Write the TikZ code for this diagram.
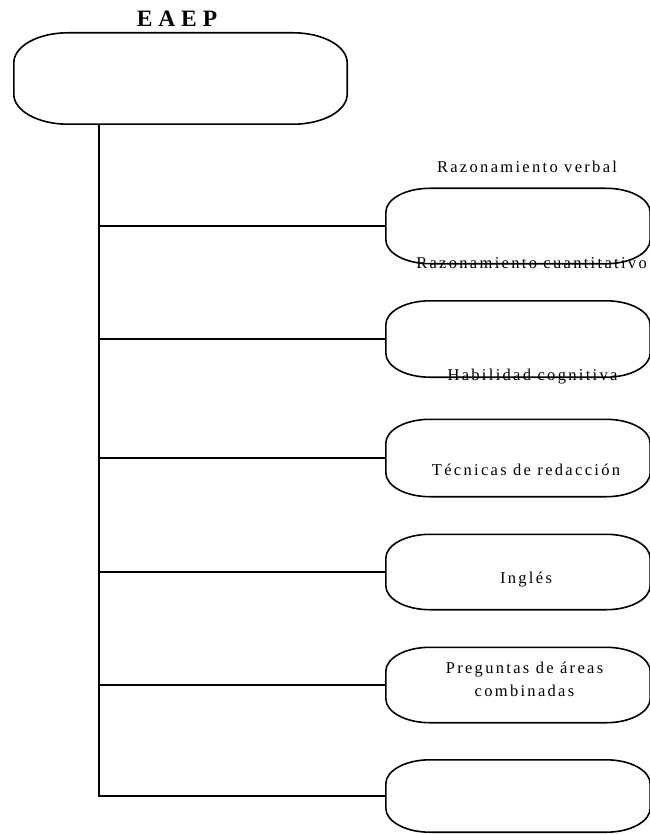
\documentclass[tikz,border=0pt]{standalone}
\usepackage{fontspec}
\setmainfont{Liberation Serif}
\newfontfamily\labelfont[LetterSpace=14]{Liberation Serif}
\newfontfamily\titlefont[LetterSpace=25]{Liberation Serif}
\usetikzlibrary{calc}
\usetikzlibrary{positioning}
\newcommand{\pill}[3]{%
  \draw[line width=1.6pt] ([xshift=#2]#1.north west) -- ([xshift=-#2]#1.north east)
    arc[start angle=90,end angle=0,x radius=#2,y radius=#3]
    -- ([yshift=#3]#1.south east)
    arc[start angle=0,end angle=-90,x radius=#2,y radius=#3]
    -- ([xshift=#2]#1.south west)
    arc[start angle=270,end angle=180,x radius=#2,y radius=#3]
    -- ([yshift=-#3]#1.north west)
    arc[start angle=180,end angle=90,x radius=#2,y radius=#3] -- cycle;}

\begin{document}
\begin{tikzpicture}[x=1pt,y=-1pt]
\tikzstyle{box}=[rectangle,inner sep=0pt,minimum width=264pt,minimum height=75pt]
\tikzstyle{txt}=[inner sep=0pt,anchor=base,align=center,font=\labelfont\fontsize{16.5}{23}\selectfont]
\useasboundingbox (0,0) rectangle (649,834);
\node[box,minimum width=333pt,minimum height=91pt] at(180.5,78.5) (eaep) {};
\node[inner sep=0pt,anchor=base,font=\titlefont\bfseries\fontsize{23.5}{26}\selectfont] at(177,27) (title) {EAEP};
\node[box] at(518,226) (r1) {};
\node[box,minimum height=76pt] at(518,339) (r2) {};
\node[box,minimum height=77pt] at(518,458) (r3) {};
\node[box] at(518,572) (r4) {};
\node[box] at(518,685) (r5) {};
\node[box,minimum height=72pt] at(518,796) (r6) {};
\pill{eaep}{54pt}{30pt}
\foreach \n in {r1,r2,r3,r4,r5,r6} \pill{\n}{44pt}{24pt};
\node[txt] at(527,173) (verbal) {Razonamiento verbal};
\node[txt] at(531.5,268) (cuanti) {Razonamiento cuantitativo};
\node[txt] at(532.5,380) (habil) {Habilidad cognitiva};
\node[txt] at(526,475) (redac) {Técnicas de redacción};
\node[txt] at(526,583) (ingles) {Inglés};
\node[txt] at(524.5,696) (areas) {Preguntas de áreas\\combinadas};
\coordinate (root) at(99,124);
\draw[line width=2pt] (root) |- (r6.west);
\foreach \n in {r1,r2,r3,r4,r5} \draw[line width=1.3pt] (root |- \n.west) -- (\n.west);
\end{tikzpicture}
\end{document}
